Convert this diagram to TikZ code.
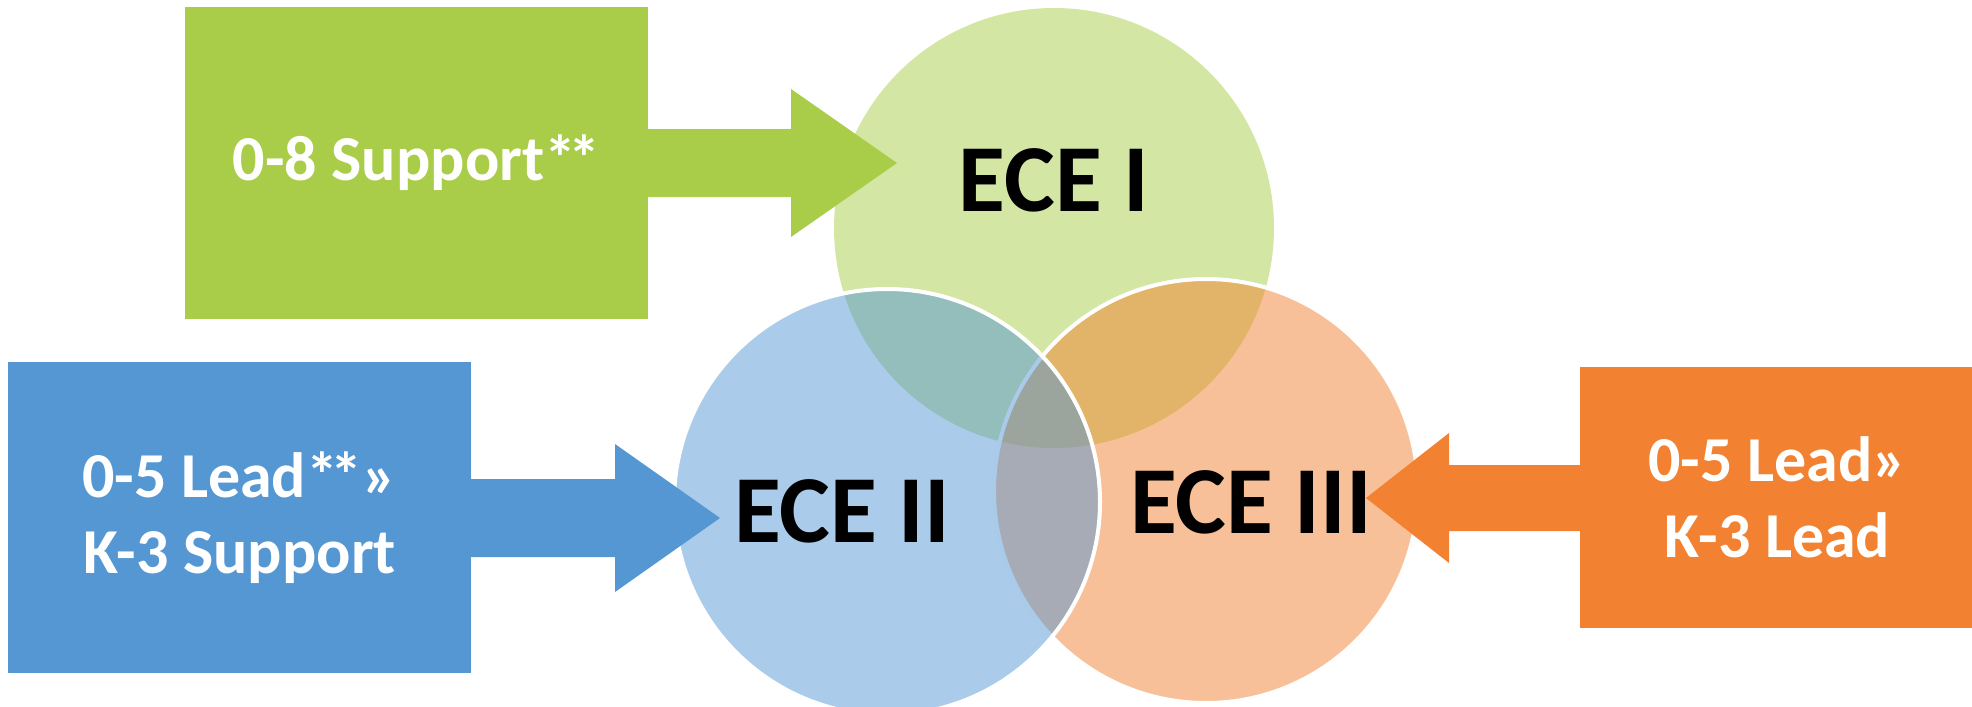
\documentclass[tikz,border=0pt]{standalone}
\usepackage{fontspec}
\setmainfont{Carlito}
\definecolor{cgreen}{HTML}{A9CD49}
\definecolor{cblue}{HTML}{5597D3}
\definecolor{corange}{HTML}{F28231}
\newcommand{\dstar}{*\kern-0.12em*}
\tikzset{
  box/.style={rectangle, inner sep=0pt, outer sep=0pt, text=white,
    font=\fontsize{32}{38}\selectfont\bfseries, align=center},
  venn/.style={circle, inner sep=0pt, minimum size=#1, fill opacity=0.5, draw opacity=1},
  ring/.style={draw=white, line width=2pt},
  ece/.style={font=\fontsize{48}{56}\selectfont\bfseries, text=black, anchor=base, inner sep=0pt},
}
\begin{document}
\begin{tikzpicture}[x=0.5pt,y=-0.5pt]
\useasboundingbox (0,0) rectangle (1972,707);
% Venn circles
\node[venn=220pt, fill=cgreen] (c1) at (1054,228) {};
\node[venn=212pt, fill=corange, ring] (c3) at (1206,491) {};
\node[venn=213pt, fill=cblue, ring] (c2) at (887,502) {};
% boxes
\node[box, fill=cgreen, minimum width=231.5pt, minimum height=156pt] (g) at (416.5,163) {};
\node[box, fill=cblue, minimum width=231.5pt, minimum height=155.5pt] (b) at (239.5,517.5) {};
\node[box, fill=corange, minimum width=197.5pt, minimum height=130.5pt] (o) at (1777.5,497.5) {};
% arrow tips
\coordinate (gtip) at (897,163);
\coordinate (btip) at (720,518);
\coordinate (otip) at (1366,498);
% block arrows
\fill[cgreen] (g.center |- 0,129) -- (791,129) -- (791,89) -- (gtip) -- (791,237) -- (791,197) -- (g.center |- 0,197) -- cycle;
\fill[cblue] (b.center |- 0,479) -- (615,479) -- (615,444) -- (btip) -- (615,592) -- (615,557) -- (b.center |- 0,557) -- cycle;
\fill[corange] (o.center |- 0,465) -- (1449,465) -- (1449,433) -- (otip) -- (1449,563) -- (1449,531) -- (o.center |- 0,531) -- cycle;
% box texts
\node[box] (gt) at (g.center) {0-8 Support\dstar};
\node[box] (bt) at (b.center) {0-5 Lead\dstar»\\K-3 Support};
\node[box] (ot) at (o.center) {0-5 Lead»\\K-3 Lead};
% labels
\node[ece] (l1) at (1054,211) {ECE I};
\node[ece] (l2) at (842,542) {ECE II};
\node[ece] (l3) at (1251,533) {ECE III};
\end{tikzpicture}
\end{document}
